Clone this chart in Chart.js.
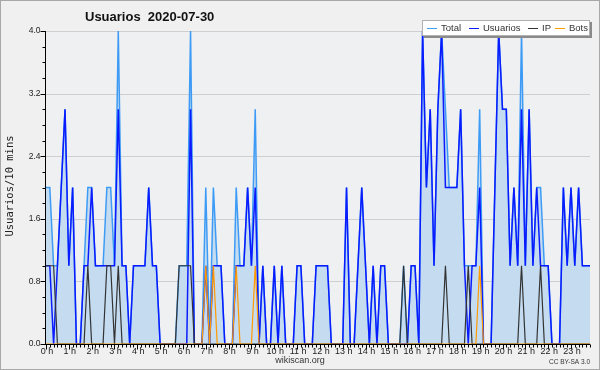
<!DOCTYPE html>
<html>
<head>
<meta charset="utf-8">
<script src="https://cdn.jsdelivr.net/npm/chart.js@4.4.0/dist/chart.umd.min.js"></script>
<style>
  html, body { margin: 0; padding: 0; background: #f0f0f0; }
  canvas { display: block; }
</style>
</head>
<body>
<canvas id="chart" width="600" height="370"></canvas>
<script>
// ---- datos (valores por tramo de 10 minutos, 00:00 -> 23:50) ----
const total = [
  2,2,1,1,2,3,1,2,0,0, 1,2,2,1,1,1,2,2,1,4, 1,1,0,1,1,1,1,2,1,1,
  0,0,0,0,0,1,1,1,4,0, 0,0,2,0,2,1,1,0,0,0, 2,1,1,2,1,3,0,1,0,0,
  1,0,1,0,0,0,1,1,0,0, 0,1,1,1,1,0,0,0,0,2, 0,0,1,2,1,0,1,0,1,1,
  0,0,0,0,1,0,1,1,0,4, 2,3,1,3,4,3,2,2,2,3, 1,1,1,1,3,0,0,0,2,4,
  3,3,1,2,1,4,1,3,1,2, 2,1,1,0,0,0,2,1,2,1, 2,1,1,1
];
const usuarios = [
  1,1,0,1,2,3,1,2,0,0, 1,1,2,1,1,1,1,1,1,3, 1,1,0,1,1,1,1,2,1,1,
  0,0,0,0,0,0,0,0,3,0, 0,0,1,0,1,1,1,0,0,0, 1,1,1,2,1,2,0,1,0,0,
  1,0,1,0,0,0,1,1,0,0, 0,1,1,1,1,0,0,0,0,2, 0,0,1,2,1,0,1,0,1,1,
  0,0,0,0,0,0,1,1,0,4, 2,3,1,3,4,2,2,2,2,3, 1,0,1,1,2,0,0,0,2,4,
  3,3,1,2,1,3,1,3,1,2, 1,1,1,0,0,0,2,1,2,1, 2,1,1,1
];
const ip = [
  1,1,1,0,0,0,0,0,0,0, 0,1,0,0,0,0,1,1,0,1, 0,0,0,0,0,0,0,0,0,0,
  0,0,0,0,0,1,1,1,1,0, 0,0,0,0,0,0,0,0,0,0, 0,0,0,0,0,0,0,0,0,0,
  0,0,0,0,0,0,0,0,0,0, 0,0,0,0,0,0,0,0,0,0, 0,0,0,0,0,0,0,0,0,0,
  0,0,0,0,1,0,0,0,0,0, 0,0,0,0,0,1,0,0,0,0, 0,1,0,0,0,0,0,0,0,0,
  0,0,0,0,0,1,0,0,0,0, 1,0,0,0,0,0,0,0,0,0, 0,0,0,0
];
const bots = [
  0,0,0,0,0,0,0,0,0,0, 0,0,0,0,0,0,0,0,0,0, 0,0,0,0,0,0,0,0,0,0,
  0,0,0,0,0,0,0,0,0,0, 0,0,1,0,1,0,0,0,0,0, 1,0,0,0,0,1,0,0,0,0,
  0,0,0,0,0,0,0,0,0,0, 0,0,0,0,0,0,0,0,0,0, 0,0,0,0,0,0,0,0,0,0,
  0,0,0,0,0,0,0,0,0,0, 0,0,0,0,0,0,0,0,0,0, 0,0,0,0,1,0,0,0,0,0,
  0,0,0,0,0,0,0,0,0,0, 0,0,0,0,0,0,0,0,0,0, 0,0,0,0
];
const hourLabels = [
  '0 h','1 h','2 h','3 h','4 h','5 h','6 h','7 h','8 h','9 h','10 h','11 h',
  '12 h','13 h','14 h','15 h','16 h','17 h','18 h','19 h','20 h','21 h','22 h','23 h'
];
const yTickValues = [0, 0.8, 1.6, 2.4, 3.2, 4.0];
const yTickLabels = ['0.0', '0.8', '1.6', '2.4', '3.2', '4.0'];

// etiquetas de tramo (hh:mm)
const slots = [];
for (let h = 0; h < 24; h++) {
  for (let m = 0; m < 60; m += 10) {
    slots.push(String(h).padStart(2, '0') + ':' + String(m).padStart(2, '0'));
  }
}

const COLORS = {
  total: '#3d9bf5',
  fill: '#c5dcf0',
  usuarios: '#0a1cff',
  ip: '#333333',
  bots: '#ff9a00'
};
const FONT = '"Liberation Sans", Arial, sans-serif';

// dibuja fondo, rejilla, ejes, textos y leyenda a mano (estilo wikiscan)
const decoPlugin = {
  id: 'deco',
  beforeDraw(chart) {
    const { ctx, chartArea: a, scales: { y } } = chart;
    ctx.save();
    ctx.fillStyle = '#f0f0f0';
    ctx.fillRect(0, 0, chart.width, chart.height);
    ctx.fillStyle = '#eef0f2';
    ctx.fillRect(a.left, a.top, a.right - a.left, a.bottom - a.top);
    // rejilla horizontal
    ctx.strokeStyle = '#cfcfcf';
    ctx.lineWidth = 1;
    yTickValues.forEach(v => {
      if (v === 0) return;
      const py = Math.round(y.getPixelForValue(v)) + 0.5;
      ctx.beginPath();
      ctx.moveTo(a.left, py);
      ctx.lineTo(a.right, py);
      ctx.stroke();
    });
    ctx.restore();
  },
  afterDraw(chart) {
    const { ctx, chartArea: a, scales: { x, y } } = chart;
    ctx.save();
    ctx.strokeStyle = '#000';
    ctx.lineWidth = 1;

    // eje Y
    const ax = Math.round(a.left) - 0.5;
    ctx.beginPath();
    ctx.moveTo(ax, a.top);
    ctx.lineTo(ax, a.bottom + 1);
    ctx.stroke();
    // marcas menores Y cada 0.2
    for (let k = 0; k <= 20; k++) {
      const py = Math.round(y.getPixelForValue(k * 0.2)) + 0.5;
      const len = (k % 4 === 0) ? 5 : 3;
      ctx.beginPath();
      ctx.moveTo(ax - len, py);
      ctx.lineTo(ax, py);
      ctx.stroke();
    }
    ctx.fillStyle = '#222';
    ctx.font = '8.5px ' + FONT;
    ctx.textAlign = 'right';
    ctx.textBaseline = 'middle';
    yTickValues.forEach((v, i) => {
      ctx.fillText(yTickLabels[i], ax - 5, y.getPixelForValue(v));
    });

    // eje X
    const by = Math.round(a.bottom) + 0.5;
    ctx.beginPath();
    ctx.moveTo(a.left, by);
    ctx.lineTo(a.right, by);
    ctx.stroke();
    for (let i = 0; i < slots.length; i++) {
      const px = Math.round(x.getPixelForValue(i)) + 0.5;
      const len = (i % 6 === 0) ? 5 : 3;
      ctx.beginPath();
      ctx.moveTo(px, by);
      ctx.lineTo(px, by + len);
      ctx.stroke();
    }
    ctx.font = '9px ' + FONT;
    ctx.textAlign = 'center';
    ctx.textBaseline = 'top';
    hourLabels.forEach((lab, h) => {
      ctx.fillText(lab, x.getPixelForValue(h * 6) + 1, by + 3);
    });

    // titulo
    ctx.fillStyle = '#111';
    ctx.font = 'bold 13px ' + FONT;
    ctx.textAlign = 'left';
    ctx.textBaseline = 'middle';
    ctx.fillText('Usuarios  2020-07-30', 85, 17);

    // titulo eje Y
    ctx.save();
    ctx.translate(10, 186);
    ctx.rotate(-Math.PI / 2);
    ctx.font = '10.5px "DejaVu Sans Mono", monospace';
    ctx.textAlign = 'center';
    ctx.textBaseline = 'middle';
    ctx.fillStyle = '#222';
    ctx.fillText('Usuarios/10 mins', 0, 0);
    ctx.restore();

    // pie
    ctx.fillStyle = '#333';
    ctx.font = '9px ' + FONT;
    ctx.textAlign = 'center';
    ctx.textBaseline = 'middle';
    ctx.fillText('wikiscan.org', 300, 361);
    ctx.font = '6.5px ' + FONT;
    ctx.textAlign = 'right';
    ctx.fillText('CC BY-SA 3.0', 590, 362);

    // leyenda
    const lx = 422, ly = 20, lw = 168, lh = 16;
    ctx.fillStyle = '#8a8a8a';
    ctx.fillRect(lx + 2, ly + 2, lw, lh);
    ctx.fillStyle = '#ffffff';
    ctx.fillRect(lx, ly, lw, lh);
    ctx.strokeStyle = '#b0b0b0';
    ctx.strokeRect(lx + 0.5, ly + 0.5, lw - 1, lh - 1);
    const items = [
      ['Total', COLORS.total, 427],
      ['Usuarios', COLORS.usuarios, 469],
      ['IP', COLORS.ip, 528],
      ['Bots', COLORS.bots, 555]
    ];
    ctx.font = '9.5px ' + FONT;
    ctx.textAlign = 'left';
    ctx.textBaseline = 'middle';
    items.forEach(([name, col, px]) => {
      ctx.strokeStyle = col;
      ctx.lineWidth = 1;
      ctx.beginPath();
      ctx.moveTo(px, ly + 8.5);
      ctx.lineTo(px + 10, ly + 8.5);
      ctx.stroke();
      ctx.fillStyle = '#333';
      ctx.fillText(name, px + 14, ly + 8.5);
    });

    // marco
    ctx.strokeStyle = '#a8a8a8';
    ctx.lineWidth = 1;
    ctx.strokeRect(0.5, 0.5, chart.width - 1, chart.height - 1);
    ctx.restore();
  }
};

new Chart(document.getElementById('chart'), {
  type: 'line',
  data: {
    labels: slots,
    datasets: [
      { label: 'Bots', data: bots, borderColor: COLORS.bots, borderWidth: 1.2, order: 1, fill: false },
      { label: 'IP', data: ip, borderColor: COLORS.ip, borderWidth: 1.2, order: 2, fill: false },
      { label: 'Usuarios', data: usuarios, borderColor: COLORS.usuarios, borderWidth: 1.5, order: 3, fill: false },
      { label: 'Total', data: total, borderColor: COLORS.total, backgroundColor: COLORS.fill,
        borderWidth: 1.5, order: 4, fill: 'origin' }
    ]
  },
  options: {
    responsive: false,
    animation: false,
    devicePixelRatio: 1,
    layout: { padding: { left: 46, right: 10, top: 31, bottom: 26 } },
    elements: { point: { radius: 0 }, line: { tension: 0 } },
    plugins: { legend: { display: false }, title: { display: false }, tooltip: { enabled: false } },
    scales: {
      x: { type: 'category', display: false, offset: false },
      y: { type: 'linear', display: false, min: 0, max: 4 }
    }
  },
  plugins: [decoPlugin]
});
</script>
</body>
</html>
